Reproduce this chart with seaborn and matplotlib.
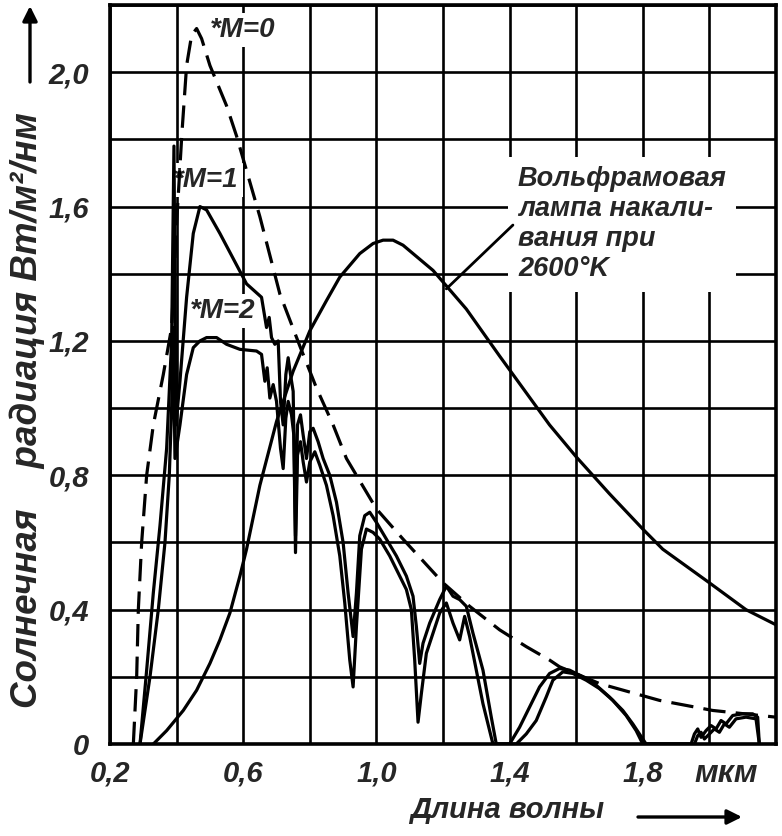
import numpy as np
import pandas as pd
import matplotlib
matplotlib.use("Agg")
import matplotlib.pyplot as plt
from matplotlib import font_manager as fm
import seaborn as sns

# ---------------- data ----------------
# Extraterrestrial solar spectrum, M=0 (dashed)
m0_x = [0.27, 0.28, 0.285, 0.295, 0.31, 0.33, 0.36, 0.385, 0.40, 0.416, 0.43, 0.445,
        0.46, 0.475, 0.50, 0.55, 0.58, 0.65, 0.71, 0.77, 0.82, 0.87, 0.91, 1.00, 1.08,
        1.20, 1.28, 1.37, 1.45, 1.52, 1.55, 1.67, 1.85, 2.01, 2.20]
m0_y = [0.0, 0.2, 0.4, 0.6, 0.8, 0.95, 1.10, 1.24, 1.55, 1.82, 2.02, 2.11,
        2.13, 2.10, 2.02, 1.90, 1.81, 1.57, 1.34, 1.185, 1.06, 0.95, 0.85, 0.70, 0.61,
        0.48, 0.41, 0.34, 0.29, 0.25, 0.23, 0.18, 0.13, 0.10, 0.08]

# Solar spectrum at sea level, air mass M=1
m1_x = [0.29, 0.31, 0.33, 0.35, 0.37, 0.385, 0.392, 0.398, 0.41, 0.43, 0.45, 0.47, 0.49,
        0.53, 0.57, 0.61, 0.655, 0.67, 0.678, 0.685, 0.695, 0.705, 0.712, 0.72, 0.728,
        0.735, 0.742, 0.75, 0.757, 0.763, 0.772, 0.78, 0.79, 0.80, 0.81, 0.825, 0.84,
        0.86, 0.88, 0.90, 0.915, 0.93, 0.94, 0.95, 0.965, 0.98, 1.00, 1.03, 1.06, 1.09,
        1.11, 1.12, 1.13, 1.14, 1.16, 1.19, 1.21, 1.23, 1.25, 1.27, 1.29, 1.32, 1.345,
        1.36, 1.40, 1.43, 1.46, 1.49, 1.52, 1.55, 1.58, 1.62, 1.66, 1.70, 1.74, 1.77,
        1.79, 1.81, 1.945, 1.955, 1.965, 1.975, 1.99, 2.005, 2.02, 2.035, 2.05, 2.07,
        2.10, 2.13, 2.145, 2.15]
m1_y = [0.0, 0.22, 0.45, 0.65, 0.88, 1.20, 1.78, 0.95, 1.08, 1.33, 1.52, 1.60, 1.59,
        1.52, 1.445, 1.37, 1.33, 1.24, 1.27, 1.21, 1.19, 1.20, 1.02, 0.95, 1.10,
        1.15, 1.10, 1.05, 0.62, 0.95, 0.98, 0.92, 0.85, 0.93, 0.94, 0.90, 0.85,
        0.80, 0.72, 0.60, 0.45, 0.32, 0.45, 0.62, 0.68, 0.69, 0.66, 0.61, 0.56, 0.50,
        0.44, 0.35, 0.24, 0.30, 0.36, 0.43, 0.47, 0.44, 0.43, 0.41, 0.33, 0.22, 0.08,
        0.0, 0.0, 0.05, 0.11, 0.17, 0.21, 0.225, 0.22, 0.20, 0.175, 0.14, 0.10, 0.06,
        0.03, 0.0, 0.0, 0.03, 0.045, 0.02, 0.04, 0.055, 0.045, 0.07, 0.06, 0.085,
        0.09, 0.09, 0.08, 0.0]

# Solar spectrum at sea level, air mass M=2
m2_x = [0.29, 0.32, 0.345, 0.365, 0.378, 0.385, 0.39, 0.395, 0.41, 0.43, 0.45, 0.47,
        0.49, 0.52, 0.55, 0.59, 0.64, 0.655, 0.665, 0.672, 0.68, 0.69, 0.70, 0.712,
        0.72, 0.728, 0.735, 0.745, 0.752, 0.757, 0.763, 0.772, 0.78, 0.79, 0.80, 0.815,
        0.83, 0.85, 0.87, 0.89, 0.905, 0.92, 0.93, 0.94, 0.955, 0.97, 0.99, 1.01, 1.04,
        1.07, 1.09, 1.105, 1.115, 1.125, 1.135, 1.15, 1.17, 1.19, 1.21, 1.23, 1.25,
        1.265, 1.28, 1.30, 1.32, 1.35, 1.42, 1.45, 1.48, 1.51, 1.53, 1.56, 1.59, 1.63,
        1.67, 1.71, 1.75, 1.78, 1.80, 1.955, 1.965, 1.975, 1.985, 2.00, 2.015, 2.03,
        2.045, 2.06, 2.08, 2.11, 2.14, 2.15]
m2_y = [0.0, 0.2, 0.4, 0.6, 0.8, 1.0, 1.24, 0.85, 0.95, 1.10, 1.18, 1.20,
        1.21, 1.21, 1.19, 1.175, 1.17, 1.16, 1.08, 1.12, 1.03, 1.07, 1.02, 0.88,
        0.82, 0.97, 1.02, 0.98, 0.92, 0.57, 0.86, 0.90, 0.84, 0.78, 0.84, 0.87,
        0.83, 0.77, 0.68, 0.56, 0.42, 0.25, 0.17, 0.35, 0.58, 0.64, 0.63, 0.61, 0.56,
        0.50, 0.46, 0.40, 0.25, 0.065, 0.15, 0.27, 0.33, 0.39, 0.42, 0.36, 0.31,
        0.38, 0.32, 0.22, 0.12, 0.0, 0.0, 0.03, 0.07, 0.14, 0.19, 0.215, 0.21, 0.19,
        0.165, 0.13, 0.085, 0.04, 0.0, 0.0, 0.025, 0.035, 0.015, 0.03, 0.045, 0.035,
        0.06, 0.05, 0.075, 0.08, 0.075, 0.0]

# Tungsten lamp at 2600 K
lamp_x = [0.33, 0.37, 0.42, 0.46, 0.50, 0.53, 0.56, 0.59, 0.61, 0.65, 0.70, 0.75,
          0.80, 0.85, 0.89, 0.95, 0.99, 1.02, 1.05, 1.08, 1.17, 1.27, 1.37, 1.52,
          1.60, 1.70, 1.80, 1.86, 2.00, 2.11, 2.20]
lamp_y = [0.0, 0.04, 0.10, 0.16, 0.24, 0.31, 0.39, 0.50, 0.58, 0.77, 0.96, 1.11,
          1.23, 1.32, 1.39, 1.46, 1.49, 1.50, 1.50, 1.485, 1.41, 1.295, 1.155, 0.95,
          0.855, 0.745, 0.64, 0.58, 0.48, 0.40, 0.355]

x_ticks = [0.2, 0.6, 1.0, 1.4, 1.8]
x_tick_labels = ["0,2", "0,6", "1,0", "1,4", "1,8"]
y_ticks = [0.0, 0.4, 0.8, 1.2, 1.6, 2.0]
y_tick_labels = ["0", "0,4", "0,8", "1,2", "1,6", "2,0"]

x_unit = "мкм"
x_label = "Длина волны"
y_label = "Солнечная    радиация Вт/м²/нм"
lamp_text = "Вольфрамовая\nлампа накали-\nвания при\n2600°K"
curve_labels = ["*M=0", "*M=1", "*M=2"]
curve_label_pos = [(0.50, 2.125), (0.389, 1.68), (0.44, 1.29)]
lamp_text_pos = (1.425, 1.72)
lamp_pointer = [(1.21, 1.355), (1.41, 1.545)]

# ---------------- style ----------------
sns.set_theme(style="white")
names = {f.name for f in fm.fontManager.ttflist}
if "Liberation Sans Narrow" in names:
    FAM = ["Liberation Sans Narrow", "DejaVu Sans"]
elif "Liberation Sans" in names:
    FAM = ["Liberation Sans", "DejaVu Sans"]
else:
    FAM = ["DejaVu Sans"]
plt.rcParams["font.family"] = FAM
plt.rcParams["font.style"] = "italic"
plt.rcParams["font.weight"] = "bold"

fig = plt.figure(figsize=(7.82, 8.36), dpi=100)
fig.patch.set_facecolor("white")
ax = fig.add_axes([0.1407, 0.1100, 0.8516, 0.8840])
ax.set_facecolor("white")

LW = 2.3
sns.lineplot(x=m0_x, y=m0_y, ax=ax, color="black", lw=LW, sort=False,
             estimator=None, linestyle=(0, (7, 3.2)), zorder=4)
for xs, ys in [(m1_x, m1_y), (m2_x, m2_y), (lamp_x, lamp_y)]:
    sns.lineplot(x=xs, y=ys, ax=ax, color="black", lw=LW, sort=False,
                 estimator=None, zorder=4)

ax.set_xlim(0.2, 2.2)
ax.set_ylim(0.0, 2.2)

# grid every 0.2 (minor), labels every 0.4 (major)
ax.xaxis.remove_overlapping_locs = False
ax.yaxis.remove_overlapping_locs = False
ax.set_xticks(np.arange(0.2, 2.2001, 0.2), minor=True)
ax.set_yticks(np.arange(0.0, 2.2001, 0.2), minor=True)
ax.set_xticks(x_ticks)
ax.set_xticklabels(x_tick_labels)
ax.set_yticks(y_ticks)
ax.set_yticklabels(y_tick_labels)
ax.grid(False, which="major")
ax.grid(True, which="minor", color="black", lw=1.9)
ax.set_axisbelow(True)
ax.tick_params(which="both", length=0)
ax.tick_params(axis="x", which="major", pad=11, labelsize=21)
ax.tick_params(axis="y", which="major", pad=15, labelsize=21)
for sp in ax.spines.values():
    sp.set_visible(True)
    sp.set_color("black")
    sp.set_linewidth(2.6)
ax.set_xlabel("")
ax.set_ylabel("")

box = dict(boxstyle="square,pad=0.15", fc="white", ec="none")
for lab, (lx, ly) in zip(curve_labels, curve_label_pos):
    ax.text(lx, ly, lab, ha="left", va="center", fontsize=20, zorder=3, bbox=box)

ax.text(lamp_text_pos[0], lamp_text_pos[1], lamp_text, ha="left", va="top",
        fontsize=19.5, linespacing=1.2, zorder=3,
        bbox=dict(boxstyle="square,pad=0.35", fc="white", ec="none"))
ax.annotate("", xy=lamp_pointer[0], xytext=lamp_pointer[1],
            arrowprops=dict(arrowstyle="-", color="black", lw=2.0,
                            shrinkA=0, shrinkB=0), zorder=4)

ax.annotate(x_unit, xy=(2.05, 0), xycoords=("data", "axes fraction"),
            xytext=(0, -11), textcoords="offset points", ha="center", va="top",
            fontsize=23)

# axis titles with arrows
fig.text(507 / 782, 1 - 810 / 836, x_label, ha="center", va="center", fontsize=21)
ax.annotate("", xy=(742 / 782, 1 - 817 / 836), xytext=(638 / 782, 1 - 817 / 836),
            xycoords="figure fraction", textcoords="figure fraction",
            arrowprops=dict(arrowstyle="-|>", color="black", lw=2.4,
                            mutation_scale=22, shrinkA=0, shrinkB=0),
            annotation_clip=False)
fig.text(27 / 782, 1 - 410 / 836, y_label, ha="center", va="center",
         rotation=90, fontsize=26.5)
ax.annotate("", xy=(30 / 782, 1 - 6 / 836), xytext=(30 / 782, 1 - 82 / 836),
            xycoords="figure fraction", textcoords="figure fraction",
            arrowprops=dict(arrowstyle="-|>", color="black", lw=2.4,
                            mutation_scale=22, shrinkA=0, shrinkB=0),
            annotation_clip=False)

fig.savefig("out.png", dpi=100, facecolor="white")
